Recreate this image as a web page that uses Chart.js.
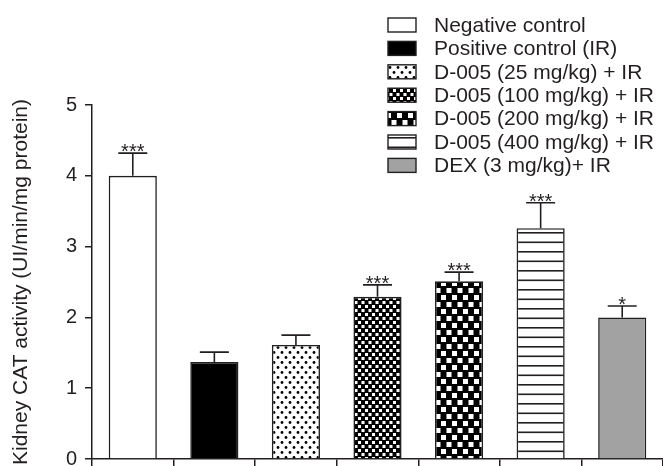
<!DOCTYPE html>
<html>
<head>
<meta charset="utf-8">
<script src="https://cdn.jsdelivr.net/npm/chart.js@4/dist/chart.umd.min.js"></script>
<style>
  body { margin: 0; background: #fff; overflow: hidden; }
  #wrap { position: relative; width: 663px; height: 466px; }
</style>
</head>
<body>
<div id="wrap"><canvas id="catChart"></canvas></div>
<script>
// groups and values
let groups = ['Negative control', 'Positive control (IR)', 'D-005 (25 mg/kg) + IR', 'D-005 (100 mg/kg) + IR',
              'D-005 (200 mg/kg) + IR', 'D-005 (400 mg/kg) + IR', 'DEX (3 mg/kg)+ IR'];
let catActivity = [4.0, 1.37, 1.61, 2.29, 2.51, 3.26, 2.0];
let catError = [0.32, 0.14, 0.14, 0.17, 0.13, 0.36, 0.16];
let signif = ['***', '', '', '***', '***', '***', '*'];
let yTicks = [0, 1, 2, 3, 4, 5];

const ink = '#231f20';
const fontFam = "'Liberation Sans', Arial, sans-serif";

function makeTile(w, h, paint) {
    let c = document.createElement('canvas');
    c.width = w;
    c.height = h;
    let g = c.getContext('2d');
    paint(g, w, h);
    return document.getElementById('catChart').getContext('2d').createPattern(c, 'repeat');
}

// fills for each group
let fills = [
    '#ffffff',
    '#000000',
    makeTile(8, 10, function(g, w, h) {
        g.fillStyle = '#fff'; g.fillRect(0, 0, w, h);
        g.fillStyle = '#000';
        g.beginPath(); g.arc(2, 2.5, 1.4, 0, Math.PI * 2); g.fill();
        g.beginPath(); g.arc(6, 7.5, 1.4, 0, Math.PI * 2); g.fill();
    }),
    makeTile(7, 8, function(g, w, h) {
        g.fillStyle = '#000'; g.fillRect(0, 0, w, h);
        g.fillStyle = '#fff';
        g.fillRect(1, 1, 3, 3);
        g.fillRect(4.5, 5, 3, 3);
        g.fillRect(-2.5, 5, 3, 3);
    }),
    makeTile(11, 14, function(g, w, h) {
        g.fillStyle = '#000'; g.fillRect(0, 0, w, h);
        g.fillStyle = '#fff';
        g.fillRect(1, 1, 5, 5);
        g.fillRect(6.5, 8, 5, 5);
        g.fillRect(-4.5, 8, 5, 5);
    }),
    makeTile(8, 19, function(g, w, h) {
        g.fillStyle = '#fff'; g.fillRect(0, 0, w, h);
        g.fillStyle = ink;
        g.fillRect(0, 4, w, 1.6);
        g.fillRect(0, 13.5, w, 1.6);
    }),
    '#a2a2a2'
];

const errorBars = {
    id: 'errorBars',
    afterDatasetsDraw(chart) {
        const ctx = chart.ctx;
        const meta = chart.getDatasetMeta(0);
        const y = chart.scales.y;
        ctx.save();
        ctx.strokeStyle = ink;
        ctx.lineWidth = 1.6;
        ctx.fillStyle = ink;
        ctx.font = '20px ' + fontFam;
        ctx.textAlign = 'center';
        ctx.textBaseline = 'alphabetic';
        meta.data.forEach(function(bar, i) {
            let yTop = y.getPixelForValue(catActivity[i]);
            let yCap = y.getPixelForValue(catActivity[i] + catError[i]);
            ctx.beginPath();
            ctx.moveTo(bar.x, yTop);
            ctx.lineTo(bar.x, yCap);
            ctx.moveTo(bar.x - 14.5, yCap);
            ctx.lineTo(bar.x + 14.5, yCap);
            ctx.stroke();
            if (signif[i]) {
                ctx.fillText(signif[i], bar.x, yCap + 5);
            }
        });
        ctx.restore();
    }
};

const boxLegend = {
    id: 'boxLegend',
    afterDraw(chart) {
        const ctx = chart.ctx;
        ctx.save();
        ctx.font = '21px ' + fontFam;
        ctx.textBaseline = 'middle';
        ctx.textAlign = 'left';
        groups.forEach(function(name, i) {
            let cy = 25 + i * 23.4;
            ctx.fillStyle = fills[i];
            ctx.fillRect(388, cy - 7, 28, 14);
            ctx.strokeStyle = ink;
            ctx.lineWidth = 1.4;
            ctx.strokeRect(388, cy - 7, 28, 14);
            ctx.fillStyle = ink;
            ctx.fillText(name, 434, cy + 1);
        });
        ctx.restore();
    }
};

new Chart(document.getElementById('catChart'), {
    type: 'bar',
    data: {
        labels: groups,
        datasets: [{
            data: catActivity,
            backgroundColor: fills,
            borderColor: ink,
            borderWidth: 1.6,
            borderSkipped: 'bottom',
            categoryPercentage: 1,
            barPercentage: 0.59
        }]
    },
    options: {
        responsive: true,
        maintainAspectRatio: false,
        animation: false,
        layout: { autoPadding: false, padding: { top: 105, left: 0, right: 0, bottom: 0 } },
        plugins: {
            legend: { display: false },
            tooltip: { enabled: false }
        },
        scales: {
            x: {
                offset: true,
                afterFit(scale) {
                    scale.height = 7;
                    scale.paddingLeft = 0;
                    scale.paddingRight = 0;
                },
                grid: { drawOnChartArea: false, drawTicks: true, tickLength: 7, color: ink, lineWidth: 1.5 },
                border: { display: true, color: ink, width: 1.5 },
                ticks: { display: false }
            },
            y: {
                min: 0,
                max: 5,
                afterBuildTicks(scale) {
                    scale.ticks = yTicks.map(v => ({ value: v }));
                },
                afterFit(scale) {
                    scale.width = 92;
                    scale.paddingTop = 0;
                    scale.paddingBottom = 0;
                },
                grid: { drawOnChartArea: false, drawTicks: true, tickLength: 7, color: ink, lineWidth: 1.5 },
                border: { display: true, color: ink, width: 1.5 },
                ticks: {
                    color: ink,
                    padding: 8,
                    font: { family: fontFam, size: 20 }
                },
                title: {
                    display: true,
                    text: 'Kidney CAT activity (UI/min/mg protein)',
                    color: ink,
                    padding: { top: 9, bottom: 0 },
                    font: { family: fontFam, size: 21 }
                }
            }
        }
    },
    plugins: [errorBars, boxLegend]
});
</script>
</body>
</html>
